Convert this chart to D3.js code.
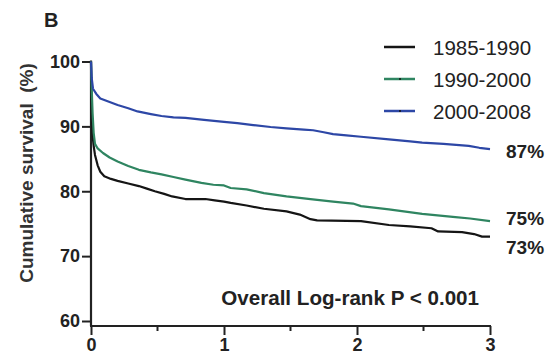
<!DOCTYPE html>
<html><head><meta charset="utf-8">
<script src="https://cdn.jsdelivr.net/npm/d3@7"></script>
<style>body{margin:0;background:#fff;} svg{display:block;font-family:Arial,"Liberation Sans",sans-serif;}</style>
</head><body>
<script>
const seriesNames = ["1985-1990", "1990-2000", "2000-2008"];
const seriesColors = ["#151515", "#2f8561", "#2d47a6"];
const endLabels = ["73%", "75%", "87%"];
const xTicks = [0, 1, 2, 3];
const xMinorTicks = [0.5, 1.5, 2.5];
const yTicks = [60, 70, 80, 90, 100];
const annotation = "Overall Log-rank P < 0.001";
const yTitle = "Cumulative survival  (%)";
const panelLabel = "B";

const black1985 = [[0,100],[0.004,93],[0.01,89],[0.02,87],[0.03,85.6],[0.05,84],[0.07,83],[0.1,82.3],[0.15,81.9],[0.2,81.6],[0.28,81.2],[0.36,80.8],[0.42,80.4],[0.48,80.0],[0.55,79.6],[0.61,79.2],[0.71,78.8],[0.86,78.8],[0.93,78.6],[1.0,78.4],[1.05,78.2],[1.17,77.8],[1.3,77.3],[1.47,76.9],[1.57,76.4],[1.65,75.7],[1.7,75.5],[2.03,75.4],[2.24,74.8],[2.4,74.6],[2.56,74.3],[2.61,73.8],[2.79,73.7],[2.88,73.4],[2.94,73.0],[3.0,73.0]];
const green1990 = [[0,100],[0.005,96],[0.012,92],[0.02,89],[0.03,87.3],[0.05,86.6],[0.09,85.9],[0.14,85.2],[0.2,84.6],[0.28,83.9],[0.36,83.3],[0.45,82.9],[0.53,82.6],[0.62,82.2],[0.71,81.8],[0.83,81.3],[0.92,81.0],[1.0,80.9],[1.05,80.5],[1.17,80.3],[1.3,79.7],[1.47,79.2],[1.65,78.8],[1.82,78.4],[1.97,78.1],[2.03,77.7],[2.24,77.2],[2.49,76.5],[2.74,76.0],[2.85,75.8],[3.0,75.4]];
const blue2000 = [[0,100],[0.005,97.5],[0.015,95.8],[0.04,95],[0.07,94.3],[0.12,93.9],[0.2,93.3],[0.28,92.8],[0.35,92.3],[0.45,91.9],[0.53,91.6],[0.62,91.4],[0.71,91.3],[0.85,91.0],[1.0,90.7],[1.1,90.5],[1.22,90.2],[1.35,89.9],[1.47,89.7],[1.6,89.5],[1.67,89.4],[1.75,89.1],[1.82,88.8],[1.92,88.6],[2.03,88.4],[2.24,88.0],[2.4,87.7],[2.49,87.5],[2.65,87.3],[2.84,87.0],[2.92,86.7],[3.0,86.5]];
const seriesData = [black1985, green1990, blue2000];

const W = 559, H = 360;
const svg = d3.select("body").append("svg").attr("width", W).attr("height", H);
const x = d3.scaleLinear().domain([0, 3]).range([91, 490]);
const y = d3.scaleLinear().domain([60, 100]).range([321, 61.5]);
const axisY = 326;
const axisColor = "#222";

// panel label
svg.append("text").attr("x", 44).attr("y", 27).attr("font-size", 20).attr("font-weight", "bold").attr("fill", "#222").text(panelLabel);

// y axis
const gy = svg.append("g").attr("transform", `translate(${x(0)},0)`)
  .call(d3.axisLeft(y).tickValues(yTicks).tickSize(9).tickPadding(2));
gy.select(".domain").remove();
gy.selectAll(".tick line").attr("stroke", axisColor).attr("stroke-width", 2);
gy.selectAll(".tick text").attr("font-size", 18).attr("font-weight", "bold").attr("fill", "#222").attr("font-family", "Arial, Liberation Sans, sans-serif");
svg.append("line").attr("x1", x(0)).attr("x2", x(0)).attr("y1", y(100) - 1).attr("y2", axisY)
  .attr("stroke", axisColor).attr("stroke-width", 2.2);

// x axis
const gx = svg.append("g").attr("transform", `translate(0,${axisY})`)
  .call(d3.axisBottom(x).tickValues(xTicks).tickFormat(d3.format("d")).tickSize(9).tickPadding(3));
gx.select(".domain").remove();
gx.selectAll(".tick line").attr("stroke", axisColor).attr("stroke-width", 2);
gx.selectAll(".tick text").attr("font-size", 18).attr("font-weight", "bold").attr("fill", "#222").attr("font-family", "Arial, Liberation Sans, sans-serif");
svg.append("line").attr("x1", x(0) - 1).attr("x2", x(3) + 1).attr("y1", axisY).attr("y2", axisY)
  .attr("stroke", axisColor).attr("stroke-width", 2.2);
svg.append("g").selectAll("line").data(xMinorTicks).join("line")
  .attr("x1", d => x(d)).attr("x2", d => x(d)).attr("y1", axisY).attr("y2", axisY + 5)
  .attr("stroke", axisColor).attr("stroke-width", 2);

// y title
svg.append("text").attr("transform", "translate(33,173) rotate(-90)").attr("text-anchor", "middle")
  .style("white-space", "pre").attr("xml:space", "preserve")
  .attr("font-size", 19).attr("font-weight", "bold").attr("fill", "#333").text(yTitle);

// curves
const line = d3.line().x(d => x(d[0])).y(d => y(d[1]));
svg.append("g").selectAll("path").data(seriesData).join("path")
  .attr("d", line).attr("fill", "none")
  .attr("stroke", (d, i) => seriesColors[i]).attr("stroke-width", 2.2).attr("stroke-linejoin", "round");

// end labels
svg.append("g").selectAll("text").data(seriesData).join("text")
  .attr("x", 506).attr("y", (d, i) => y(d[d.length - 1][1]) + [17, 3.5, 9][i])
  .attr("font-size", 19).attr("font-weight", "bold").attr("fill", "#222")
  .text((d, i) => endLabels[i]);

// legend
const leg = svg.append("g");
seriesNames.forEach((name, i) => {
  const ly = 47 + i * 32;
  leg.append("line").attr("x1", 384).attr("x2", 415).attr("y1", ly).attr("y2", ly)
    .attr("stroke", seriesColors[i]).attr("stroke-width", 2.5);
  if (i > 0) leg.append("circle").attr("cx", 400).attr("cy", ly).attr("r", 1).attr("fill", "#111");
  leg.append("text").attr("x", 433).attr("y", ly + 7.5).attr("font-size", 20.5).attr("fill", "#222").text(name);
});

// annotation
svg.append("text").attr("x", 479).attr("y", 305).attr("text-anchor", "end")
  .attr("font-size", 20.6).attr("font-weight", "bold").attr("fill", "#222").text(annotation);
</script>
</body></html>
